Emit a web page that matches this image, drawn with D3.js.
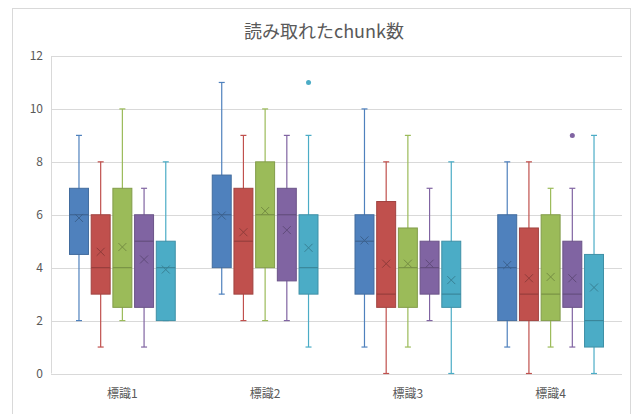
<!DOCTYPE html>
<html>
<head>
<meta charset="utf-8">
<script src="https://cdn.jsdelivr.net/npm/d3@7"></script>
<style>
  body { margin: 0; background: #fff; }
  text { font-family: "Noto Sans CJK JP", "Noto Sans", sans-serif; }
</style>
</head>
<body>
<div id="chart"></div>
<script>
const categories = ["標識1", "標識2", "標識3", "標識4"];
const seriesNames = ["系列1", "系列2", "系列3", "系列4", "系列5"];
const colors = ["#4F81BD", "#C0504D", "#9BBB59", "#8064A2", "#4BACC6"];
const yTicks = [0, 2, 4, 6, 8, 10, 12];

// [category][series]
const mins    = [[2, 1, 2, 1, 2], [3, 2, 2, 2, 1], [1, 0, 1, 2, 0], [1, 0, 1, 1, 0]];
const q1s     = [[4.5, 3, 2.5, 2.5, 2], [4, 3, 4, 3.5, 3], [3, 2.5, 2.5, 3, 2.5], [2, 2, 2, 2.5, 1]];
const medians = [[6, 4, 4, 5, 4], [6, 5, 6, 6, 4], [5, 3, 4, 4, 3], [4, 3, 3, 3, 2]];
const q3s     = [[7, 6, 7, 6, 5], [7.5, 7, 8, 7, 6], [6, 6.5, 5.5, 5, 5], [6, 5.5, 6, 5, 4.5]];
const maxs    = [[9, 8, 10, 7, 8], [11, 9, 10, 9, 9], [10, 8, 9, 7, 8], [8, 8, 7, 7, 9]];
const means   = [[5.88, 4.6, 4.78, 4.31, 3.93], [5.97, 5.34, 6.14, 5.42, 4.75],
                 [5.03, 4.15, 4.15, 4.15, 3.53], [4.1, 3.6, 3.65, 3.6, 3.25]];
// [category, series index, value]
const outliers = [["標識2", 4, 11], ["標識4", 3, 9]];

const width = 633, height = 414;
const margin = { top: 56, right: 11, bottom: 40, left: 51 };

const svg = d3.select("#chart").append("svg")
    .attr("width", width)
    .attr("height", height);

// chart border
svg.append("rect")
    .attr("x", 12.5).attr("y", 8.5)
    .attr("width", 618).attr("height", 420)
    .attr("fill", "#fff")
    .attr("stroke", "#d9d9d9");

svg.append("text")
    .attr("x", 324).attr("y", 38)
    .attr("text-anchor", "middle")
    .attr("font-size", 18)
    .attr("fill", "#595959")
    .text("読み取れたchunk数");

const x0 = d3.scaleBand()
    .domain(categories)
    .range([margin.left, width - margin.right]);

const x1 = d3.scaleBand()
    .domain(seriesNames)
    .range([18, x0.bandwidth() - 18])
    .paddingInner(0.08);

const y = d3.scaleLinear()
    .domain([0, 12])
    .range([height - margin.bottom - 0.5, margin.top]);

// gridlines
svg.append("g")
    .selectAll("line")
    .data(yTicks)
    .join("line")
    .attr("x1", margin.left)
    .attr("x2", width - margin.right)
    .attr("y1", d => Math.round(y(d)) + 0.5)
    .attr("y2", d => Math.round(y(d)) + 0.5)
    .attr("stroke", "#d9d9d9");

svg.append("line")
    .attr("x1", margin.left + 0.5).attr("x2", margin.left + 0.5)
    .attr("y1", y(12)).attr("y2", y(0))
    .attr("stroke", "#d9d9d9");

// y labels
svg.append("g")
    .selectAll("text")
    .data(yTicks)
    .join("text")
    .attr("x", 43)
    .attr("y", d => y(d))
    .attr("dy", "0.35em")
    .attr("text-anchor", "end")
    .attr("font-size", 12)
    .attr("fill", "#595959")
    .text(d => d);

// category labels
svg.append("g")
    .selectAll("text")
    .data(categories)
    .join("text")
    .attr("x", d => x0(d) + x0.bandwidth() / 2)
    .attr("y", 394)
    .attr("dy", "0.35em")
    .attr("text-anchor", "middle")
    .attr("font-size", 12)
    .attr("fill", "#595959")
    .text(d => d);

const boxes = [];
categories.forEach((c, ci) => {
    seriesNames.forEach((s, si) => {
        boxes.push({
            cat: c, series: s, color: colors[si],
            min: mins[ci][si], q1: q1s[ci][si], median: medians[ci][si],
            q3: q3s[ci][si], max: maxs[ci][si], mean: means[ci][si]
        });
    });
});

const bw = x1.bandwidth();
const g = svg.append("g")
    .selectAll("g")
    .data(boxes)
    .join("g")
    .attr("transform", d => `translate(${x0(d.cat) + x1(d.series)},0)`);

// whiskers
g.append("line")
    .attr("x1", bw / 2).attr("x2", bw / 2)
    .attr("y1", d => y(d.max)).attr("y2", d => y(d.min))
    .attr("stroke", d => d.color)
    .attr("stroke-width", 1.2);

g.selectAll("line.cap")
    .data(d => [d.max, d.min].map(v => ({ v, color: d.color })))
    .join("line")
    .attr("class", "cap")
    .attr("x1", bw / 2 - 3).attr("x2", bw / 2 + 3)
    .attr("y1", d => y(d.v)).attr("y2", d => y(d.v))
    .attr("stroke", d => d.color)
    .attr("stroke-width", 1.2);

// box
g.append("rect")
    .attr("x", 0.5)
    .attr("width", bw - 1)
    .attr("y", d => y(d.q3))
    .attr("height", d => y(d.q1) - y(d.q3))
    .attr("fill", d => d.color)
    .attr("stroke", d => d3.color(d.color).darker(0.5))
    .attr("stroke-width", 1);

// median
g.append("line")
    .attr("x1", 0.5).attr("x2", bw - 0.5)
    .attr("y1", d => y(d.median)).attr("y2", d => y(d.median))
    .attr("stroke", d => d3.color(d.color).darker(0.7))
    .attr("stroke-width", 1.2);

// mean marker
g.append("path")
    .attr("d", "M-4,-4L4,4M-4,4L4,-4")
    .attr("transform", d => `translate(${bw / 2},${y(d.mean)})`)
    .attr("stroke", d => d3.color(d.color).darker(0.8))
    .attr("stroke-width", 1)
    .attr("fill", "none");

// outliers
svg.append("g")
    .selectAll("circle")
    .data(outliers)
    .join("circle")
    .attr("cx", d => x0(d[0]) + x1(seriesNames[d[1]]) + bw / 2)
    .attr("cy", d => y(d[2]))
    .attr("r", 2.5)
    .attr("fill", d => colors[d[1]]);
</script>
</body>
</html>
